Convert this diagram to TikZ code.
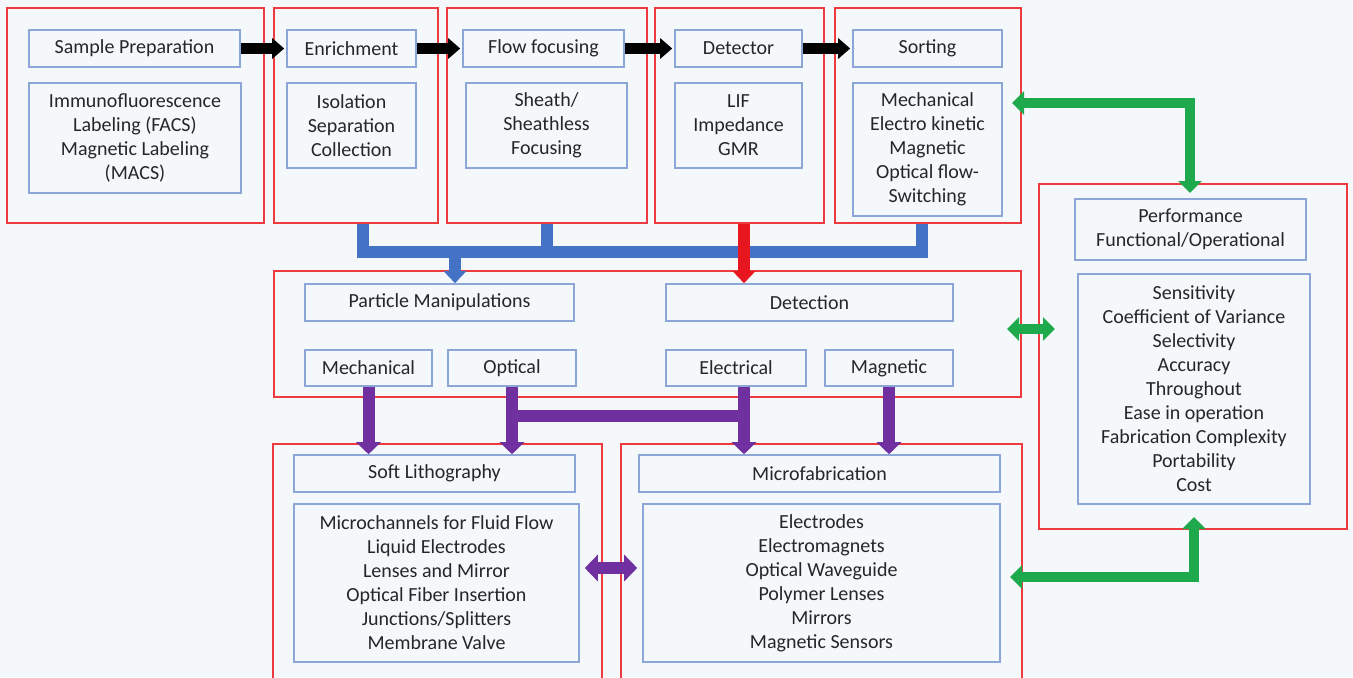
\documentclass[tikz,border=0pt]{standalone}
\usepackage{fontspec}
\setmainfont{Carlito}
\usetikzlibrary{arrows.meta, fit}

\definecolor{paper}{RGB}{244,248,251}
\definecolor{framered}{RGB}{236,58,62}
\definecolor{cellblue}{RGB}{140,166,216}
\definecolor{ink}{RGB}{38,38,38}
\definecolor{busblue}{RGB}{68,114,196}
\definecolor{busred}{RGB}{232,22,30}
\definecolor{plum}{RGB}{112,48,160}
\definecolor{leaf}{RGB}{30,170,76}

\begin{document}
\begin{tikzpicture}[x=0.5pt, y=-0.5pt,
  stage/.style={draw=framered, line width=0.8pt, inner sep=0pt},
  cell/.style={draw=cellblue, line width=0.8pt, inner sep=0pt},
  celltext/.style={text=ink, align=center, inner sep=0pt,
    font=\fontsize{10}{12}\selectfont},
  say/.style={label={[celltext]center:{#1}}},
  blackflow/.style={line width=5.5pt, shorten >=1pt,
    -{Triangle[width=10pt, length=6pt]}},
  bus/.style={line width=6pt, busblue},
  bustip/.style={-{Triangle[width=11pt, length=6pt]}},
  redflow/.style={line width=6pt, busred, -{Triangle[width=11pt, length=6pt]}},
  plumline/.style={line width=6pt, plum},
  plumflow/.style={plumline, -{Triangle[width=12pt, length=6pt]}},
  leafflow/.style={line width=5pt, leaf,
    {Triangle[width=11.5pt, length=6pt]}-{Triangle[width=11.5pt, length=6pt]}}]

\useasboundingbox (0,0) rectangle (1353,677);
\clip (0,0) rectangle (1353,677);
\fill[paper] (0,0) rectangle (1353,677);

% ── Fila superior: etapas ─────────────────────────────────────
\node[stage, fit={(7,8) (264,223)}]    (prepStage)   {};
\node[stage, fit={(274,8) (438,223)}]  (enrichStage) {};
\node[stage, fit={(447,8) (647,223)}]  (focusStage)  {};
\node[stage, fit={(655,8) (824,223)}]  (detectStage) {};
\node[stage, fit={(835,8) (1021,223)}] (sortStage)   {};

\node[cell, fit={(29,30) (240,67)}, say={Sample Preparation}] (prepTitle) {};
\node[cell, fit={(29,83) (241,193)},
    say={Immunofluorescence\\Labeling (FACS)\\Magnetic Labeling\\(MACS)}] (prepBody) {};
\node[cell, fit={(287,30) (416,67)}, say={Enrichment}] (enrichTitle) {};
\node[cell, fit={(287,83) (416,168)},
    say={Isolation\\Separation\\Collection}] (enrichBody) {};
\node[cell, fit={(463,30) (624,67)}, say={Flow focusing}] (focusTitle) {};
\node[cell, fit={(466,83) (627,168)},
    say={Sheath/\\Sheathless\\Focusing}] (focusBody) {};
\node[cell, fit={(675,30) (802,67)}, say={Detector}] (detectTitle) {};
\node[cell, fit={(675,83) (802,168)},
    say={LIF\\Impedance\\GMR}] (detectBody) {};
\node[cell, fit={(853,30) (1002,67)}, say={Sorting}] (sortTitle) {};
\node[cell, fit={(853,83) (1002,216)},
    say={Mechanical\\Electro kinetic\\Magnetic\\Optical flow-\\Switching}] (sortBody) {};

% ── Fila central: manipulación y detección ────────────────────
\node[stage, fit={(274,271) (1021,397)}] (coreStage) {};
\node[cell, fit={(305,284) (574,321)}, say={Particle Manipulations}] (manipTitle) {};
\node[cell, fit={(666,284) (953,321)}, say={Detection}] (detTitle) {};
\node[cell, fit={(305,350) (432,386)}, say={Mechanical}] (mechCell) {};
\node[cell, fit={(448,350) (576,386)}, say={Optical}]    (optCell)  {};
\node[cell, fit={(666,350) (806,386)}, say={Electrical}] (elecCell) {};
\node[cell, fit={(825,350) (953,386)}, say={Magnetic}]   (magCell)  {};

% ── Fila inferior: fabricación ────────────────────────────────
\node[stage, fit={(273,444) (602,690)}]  (softStage)  {};
\node[stage, fit={(621,444) (1022,690)}] (microStage) {};
\node[cell, fit={(294,455) (575,492)}, say={Soft Lithography}] (softTitle) {};
\node[cell, fit={(294,504) (579,662)},
    say={Microchannels for Fluid Flow\\Liquid Electrodes\\Lenses and Mirror\\
         Optical Fiber Insertion\\Junctions/Splitters\\Membrane Valve}] (softBody) {};
\node[cell, fit={(639,455) (1000,492)}, say={Microfabrication}] (microTitle) {};
\node[cell, fit={(643,504) (1000,662)},
    say={Electrodes\\Electromagnets\\Optical Waveguide\\Polymer Lenses\\
         Mirrors\\Magnetic Sensors}] (microBody) {};

% ── Columna derecha: desempeño ────────────────────────────────
\node[stage, fit={(1039,184) (1347,529)}] (perfStage) {};
\node[cell, fit={(1075,199) (1306,260)},
    say={Performance\\Functional/Operational}] (perfTitle) {};
\node[cell, fit={(1078,274) (1310,504)},
    say={Sensitivity\\Coefficient of Variance\\Selectivity\\Accuracy\\Throughout\\
         Ease in operation\\Fabrication Complexity\\Portability\\Cost}] (perfBody) {};

% ── Flechas negras entre etapas ───────────────────────────────
\draw[blackflow] (prepTitle.east)   -- (enrichTitle.west);
\draw[blackflow] (enrichTitle.east) -- (focusTitle.west);
\draw[blackflow] (focusTitle.east)  -- (detectTitle.west);
\draw[blackflow] (detectTitle.east) -- (sortTitle.west);

% ── Bus azul hacia manipulación ───────────────────────────────
\coordinate (busW)    at (363,252);
\coordinate (busE)    at (922,252);
\coordinate (manipIn) at (455,252);
\coordinate (detIn)   at (744,252);
\draw[bus] (enrichStage.south -| busW) -- (busW) -- (busE)
    -- (sortStage.south -| busE);
\draw[bus] (focusStage.south) -- (focusStage.south |- busW);
\draw[bus, bustip] (manipIn) -- (manipTitle.north -| manipIn);

% ── Flecha roja hacia detección ───────────────────────────────
\draw[redflow] (detectStage.south -| detIn) -- (detTitle.north -| detIn);

% ── Flechas moradas hacia fabricación ─────────────────────────
\coordinate (barY) at (0,416);
\draw[plumflow] (mechCell.south) -- (softTitle.north -| mechCell.south);
\draw[plumflow] (optCell.south)  -- (softTitle.north -| optCell.south);
\draw[plumline] (optCell.south |- barY) -- (detIn |- barY);
\draw[plumflow] (elecCell.south -| detIn) -- (microTitle.north -| detIn);
\draw[plumflow] (magCell.south)  -- (microTitle.north -| magCell.south);
\draw[plumline, shorten <=2.5pt, shorten >=2.5pt,
      {Triangle[width=13pt, length=6.5pt]}-{Triangle[width=13pt, length=6.5pt]}]
    ([yshift=7.5pt]softBody.east) -- ([yshift=7.5pt]microBody.west);

% ── Flechas verdes hacia desempeño ────────────────────────────
\coordinate (sortTip)    at (1012,103);
\coordinate (perfTopTip) at (1190,193);
\coordinate (coreTip)    at (1007,329);
\coordinate (perfMidTip) at (1055,329);
\coordinate (microTip)   at (1010,577);
\coordinate (perfBotTip) at (1194,517);
\draw[leafflow] (sortTip)  -| (perfTopTip);
\draw[leafflow] (coreTip)  -- (perfMidTip);
\draw[leafflow] (microTip) -| (perfBotTip);

\end{tikzpicture}
\end{document}
